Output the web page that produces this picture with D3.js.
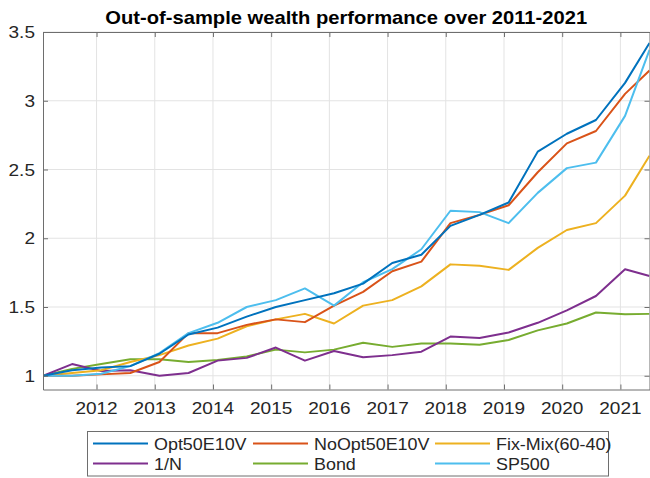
<!DOCTYPE html>
<html>
<head>
<meta charset="utf-8">
<script src="https://cdn.jsdelivr.net/npm/d3@7"></script>
<style>
  body { margin: 0; background: #fff; }
  text { font-family: "Liberation Sans", Arial, Helvetica, sans-serif; fill: #262626; }
</style>
</head>
<body>
<div id="chart"></div>
<script>
// data, one point every half year
var dates = [2011.08, 2011.58, 2012.08, 2012.58, 2013.08, 2013.58, 2014.08, 2014.58, 2015.08, 2015.58,
             2016.08, 2016.58, 2017.08, 2017.58, 2018.08, 2018.58, 2019.08, 2019.58, 2020.08, 2020.58,
             2021.08, 2021.5];
var opt50 = [1.00, 1.04, 1.06, 1.07, 1.16, 1.30, 1.35, 1.43, 1.50, 1.55, 1.60, 1.67, 1.82, 1.88, 2.09, 2.17, 2.26, 2.63, 2.76, 2.86, 3.13, 3.42];
var noOpt50 = [1.00, 1.00, 1.01, 1.02, 1.10, 1.31, 1.31, 1.37, 1.41, 1.39, 1.51, 1.61, 1.76, 1.83, 2.11, 2.17, 2.24, 2.48, 2.69, 2.78, 3.05, 3.22];
var fixMix = [1.00, 1.02, 1.04, 1.10, 1.15, 1.22, 1.27, 1.36, 1.41, 1.45, 1.38, 1.51, 1.55, 1.65, 1.81, 1.80, 1.77, 1.93, 2.06, 2.11, 2.31, 2.60];
var oneOverN = [1.00, 1.085, 1.035, 1.04, 1.00, 1.02, 1.11, 1.13, 1.205, 1.11, 1.18, 1.135, 1.15, 1.175, 1.285, 1.275, 1.315, 1.385, 1.475, 1.58, 1.775, 1.725];
var bond = [1.00, 1.05, 1.085, 1.12, 1.12, 1.10, 1.115, 1.14, 1.19, 1.17, 1.19, 1.24, 1.21, 1.235, 1.235, 1.225, 1.26, 1.33, 1.38, 1.46, 1.448, 1.45];
var sp500 = [1.00, 1.00, 1.015, 1.07, 1.165, 1.31, 1.385, 1.50, 1.55, 1.635, 1.51, 1.68, 1.775, 1.92, 2.20, 2.19, 2.11, 2.33, 2.51, 2.55, 2.89, 3.37];

var seriesNames = ["Opt50E10V", "NoOpt50E10V", "Fix-Mix(60-40)", "1/N", "Bond", "SP500"];
var seriesColors = ["#0072BD", "#D95319", "#EDB120", "#7E2F8E", "#77AC30", "#4DBEEE"];
var xTicks = [2012, 2013, 2014, 2015, 2016, 2017, 2018, 2019, 2020, 2021];
var yTicks = [1, 1.5, 2, 2.5, 3, 3.5];
var title = "Out-of-sample wealth performance over 2011-2021";

var width = 650;
var height = 478;
var margin = {top: 32, right: 0.5, bottom: 88.5, left: 43};
var sx = 1.12; // the picture is a bit wider than tall text

var svg = d3.select("#chart")
            .append("svg")
            .attr("width", width)
            .attr("height", height);

var x = d3.scaleLinear()
          .domain([2011.08, 2021.5])
          .range([margin.left, width - margin.right]);
var y = d3.scaleLinear()
          .domain([0.9, 3.5])
          .range([height - margin.bottom, margin.top]);

var x0 = x.range()[0], x1 = x.range()[1];
var y0 = y.range()[0], y1 = y.range()[1];

//grid
svg.append("g").selectAll("line")
   .data(xTicks).enter().append("line")
   .attr("x1", function(d){ return x(d); })
   .attr("x2", function(d){ return x(d); })
   .attr("y1", y1).attr("y2", y0)
   .attr("stroke", "#e3e3e3").attr("stroke-width", 1);
svg.append("g").selectAll("line")
   .data(yTicks).enter().append("line")
   .attr("x1", x0).attr("x2", x1)
   .attr("y1", function(d){ return y(d); })
   .attr("y2", function(d){ return y(d); })
   .attr("stroke", "#e3e3e3").attr("stroke-width", 1);

//lines
svg.append("clipPath").attr("id", "clip")
   .append("rect")
   .attr("x", x0).attr("y", y1)
   .attr("width", x1 - x0).attr("height", y0 - y1);

var allSeries = [opt50, noOpt50, fixMix, oneOverN, bond, sp500];
var line = d3.line()
             .x(function(d, i){ return x(dates[i]); })
             .y(function(d){ return y(d); });

// draw in reverse so Opt50E10V sits on top
var order = [4, 3, 2, 1, 5, 0];
svg.append("g").attr("clip-path", "url(#clip)")
   .selectAll("path")
   .data(order).enter().append("path")
   .attr("d", function(k){ return line(allSeries[k]); })
   .attr("fill", "none")
   .attr("stroke", function(k){ return seriesColors[k]; })
   .attr("stroke-width", 2)
   .attr("stroke-linejoin", "round");

//axes, MATLAB style ticks inside the box on all four sides
var axisColor = "#6e6e6e";
var xAxisB = d3.axisBottom(x).tickValues(xTicks).tickSizeInner(-5).tickSizeOuter(0).tickFormat("");
var xAxisT = d3.axisTop(x).tickValues(xTicks).tickSizeInner(-5).tickSizeOuter(0).tickFormat("");
var yAxisL = d3.axisLeft(y).tickValues(yTicks).tickSizeInner(-5).tickSizeOuter(0).tickFormat("");
var yAxisR = d3.axisRight(y).tickValues(yTicks).tickSizeInner(-5).tickSizeOuter(0).tickFormat("");

svg.append("g").attr("transform", "translate(0," + y0 + ")").call(xAxisB);
svg.append("g").attr("transform", "translate(0," + y1 + ")").call(xAxisT);
svg.append("g").attr("transform", "translate(" + x0 + ",0)").call(yAxisL);
svg.append("g").attr("transform", "translate(" + x1 + ",0)").call(yAxisR);
svg.selectAll(".domain, .tick line").attr("stroke", axisColor);

//tick labels
svg.append("g").selectAll("text")
   .data(xTicks).enter().append("text")
   .attr("transform", function(d){ return "translate(" + x(d) + "," + (y0 + 24) + ") scale(" + sx + ",1)"; })
   .attr("text-anchor", "middle")
   .style("font-size", "17px")
   .text(function(d){ return d; });
svg.append("g").selectAll("text")
   .data(yTicks).enter().append("text")
   .attr("transform", function(d){ return "translate(" + (x0 - 8) + "," + (y(d) + 6) + ") scale(" + sx + ",1)"; })
   .attr("text-anchor", "end")
   .style("font-size", "17px")
   .text(function(d){ return d; });

//title
svg.append("text")
   .attr("transform", "translate(" + ((x0 + x1) / 2) + ",24) scale(" + sx + ",1)")
   .attr("text-anchor", "middle")
   .style("font-size", "18px")
   .style("font-weight", "bold")
   .style("fill", "#000")
   .text(title);

//legend
var legend = svg.append("g");
legend.append("rect")
      .attr("x", 87.5).attr("y", 431.5)
      .attr("width", 521).attr("height", 44.5)
      .attr("fill", "#fff").attr("stroke", axisColor).attr("stroke-width", 1);
var colX = [93, 253, 435];
var rowY = [443.5, 463.5];
var item = legend.selectAll("g")
                 .data(seriesNames).enter().append("g")
                 .attr("transform", function(d, i){ return "translate(" + colX[i % 3] + "," + rowY[Math.floor(i / 3)] + ")"; });
item.append("line")
    .attr("x1", 0).attr("x2", 55)
    .attr("stroke", function(d, i){ return seriesColors[i]; })
    .attr("stroke-width", 2);
item.append("text")
    .attr("transform", "translate(61,6) scale(" + sx + ",1)")
    .style("font-size", "16px")
    .text(function(d){ return d; });
</script>
</body>
</html>
